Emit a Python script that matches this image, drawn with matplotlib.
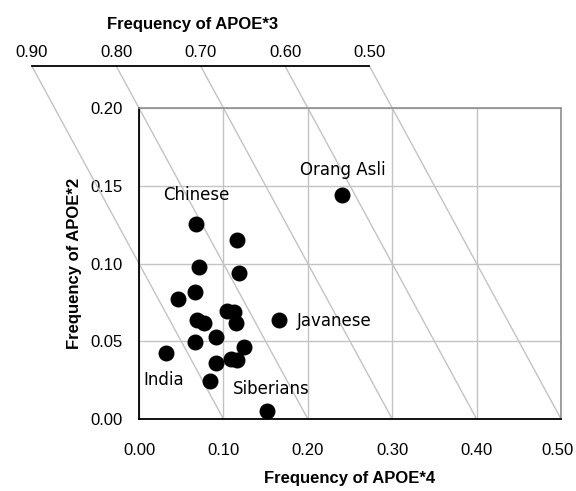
import numpy as np
import matplotlib
matplotlib.use('Agg')
from matplotlib import pyplot as plt
from matplotlib.transforms import ScaledTranslation

# APOE*4 (x) and APOE*2 (y) frequencies of each population
e4 = [0.0675, 0.1157, 0.0715, 0.118, 0.0664, 0.0466, 0.1045, 0.1129,
      0.1149, 0.0683, 0.0774, 0.1659, 0.0912, 0.0664, 0.1248, 0.032,
      0.109, 0.1165, 0.0912, 0.0845, 0.1517, 0.241]
e2 = [0.1254, 0.1151, 0.0975, 0.0937, 0.0819, 0.0772, 0.0694, 0.0686,
      0.0615, 0.0637, 0.0615, 0.0637, 0.0529, 0.0493, 0.0461, 0.0422,
      0.0386, 0.0379, 0.0358, 0.0245, 0.005, 0.144]

labels = ["Orang Asli", "Chinese", "Javanese", "India", "Siberians"]
label_x = [0.2417, 0.0675, 0.187, 0.0047, 0.111]
label_y = [0.160, 0.144, 0.063, 0.025, 0.0193]
label_ha = ["center", "center", "left", "left", "left"]

xticks = [0.0, 0.1, 0.2, 0.3, 0.4, 0.5]
yticks = [0.0, 0.05, 0.10, 0.15, 0.20]
e3_ticks = [0.90, 0.80, 0.70, 0.60, 0.50]
top_y = 0.227  # height (in APOE*2 units) where the APOE*3 axis is drawn

narrow = ['Liberation Sans', 'DejaVu Sans']
grid_c = '#c3c3c3'

fig = plt.figure(figsize=(5.76, 4.91), dpi=100)
ax = fig.add_axes([139/576, 1 - 419/491, 422/576, 311/491])

ax.set_xlim(0, 0.5)
ax.set_ylim(0, 0.2)
ax.set_xticks(xticks)
ax.set_yticks(yticks)
ax.set_xticklabels(["%.2f" % v for v in xticks], family=narrow, fontsize=12)
ax.set_yticklabels(["%.2f" % v for v in yticks], family=narrow, fontsize=12)
ax.tick_params(length=0)
ax.tick_params(axis='x', pad=17)
ax.tick_params(axis='y', pad=12)
ax.grid(True, color=grid_c, lw=1)
ax.set_axisbelow(True)

# keep the last x label inside the picture
last = ax.get_xticklabels()[-1]
last.set_transform(last.get_transform() + ScaledTranslation(-0.04, 0, fig.dpi_scale_trans))

for s in ['left', 'bottom']:
    ax.spines[s].set_color('black')
    ax.spines[s].set_linewidth(1.3)
for s in ['top', 'right']:
    ax.spines[s].set_color('#8f8f8f')
    ax.spines[s].set_linewidth(1.2)

# lines of constant APOE*3 (e4 + e2 = 1 - e3)
for t in e3_ticks:
    s = 1 - t
    ax.plot([s - top_y, s], [top_y, 0], color=grid_c, lw=1, clip_on=False, zorder=1)
    ax.text(s - top_y, top_y + 0.004, "%.2f" % t, ha='center', va='bottom',
            family=narrow, fontsize=12)

ax.plot([1 - e3_ticks[0] - top_y, 1 - e3_ticks[-1] - top_y], [top_y, top_y],
        color='black', lw=1.3, clip_on=False)

ax.scatter(e4, e2, s=110, color='black', zorder=3, clip_on=False)

for name, lx, ly, ha in zip(labels, label_x, label_y, label_ha):
    ax.text(lx, ly, name, ha=ha, va='center', fontsize=12, family='DejaVu Sans')

fig.text(350/576, 1 - 478/491, "Frequency of APOE*4", ha='center', va='center',
         family=narrow, fontsize=12, fontweight='bold')
fig.text(74/576, 1 - 263/491, "Frequency of APOE*2", ha='center', va='center',
         rotation=90, family=narrow, fontsize=12, fontweight='bold')
fig.text(193/576, 1 - 24/491, "Frequency of APOE*3", ha='center', va='center',
         family=narrow, fontsize=12, fontweight='bold')

fig.savefig("out.png", dpi=100)
